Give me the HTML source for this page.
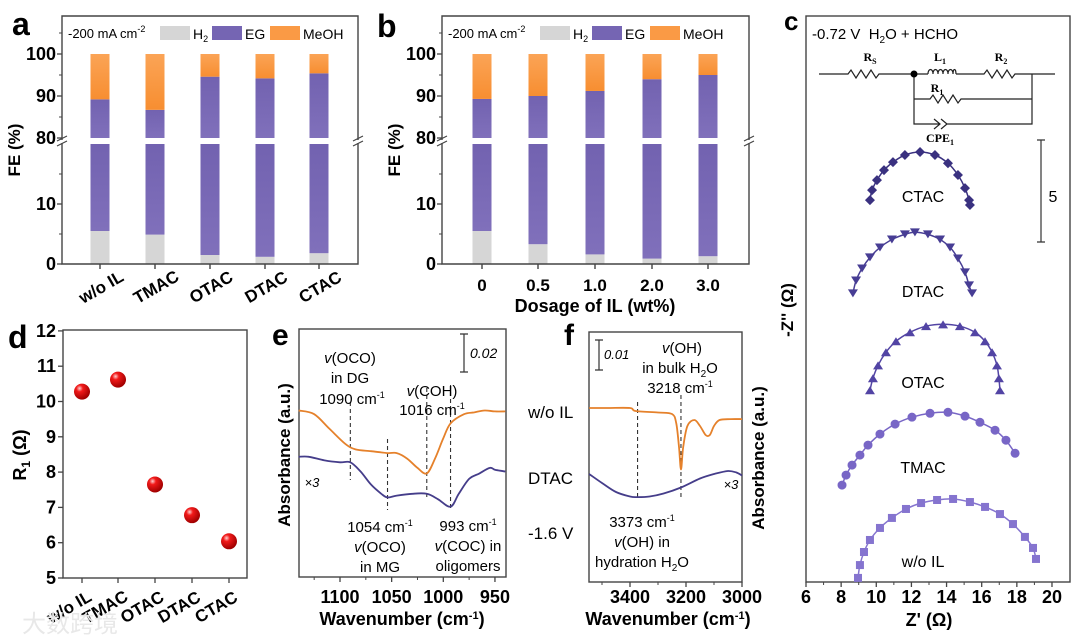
<!DOCTYPE html>
<html><head><meta charset="utf-8"><style>
body{margin:0;background:#fff}
svg{display:block;font-family:"Liberation Sans",Arial,sans-serif}
.b{font-weight:bold}
</style></head><body>
<svg id="fig" width="1080" height="644" viewBox="0 0 1080 644" xmlns="http://www.w3.org/2000/svg">
<g id="static">
<!-- panel letters -->
<text x="12" y="35" font-size="32" class="b">a</text>
<text x="377" y="37" font-size="32" class="b">b</text>
<text x="784" y="30" font-size="26" class="b">c</text>
<text x="8" y="348" font-size="32" class="b">d</text>
<text x="272" y="345" font-size="30" class="b">e</text>
<text x="564" y="345" font-size="30" class="b">f</text>
</g>
<g id="dyn"></g>
</svg>
<script>
// ---------- data ----------
const catsA = ["w/o IL","TMAC","OTAC","DTAC","CTAC"];
const h2A = [5.5,4.9,1.5,1.2,1.8];
const egTopA = [89.2,86.7,94.6,94.2,95.4];
const catsB = ["0","0.5","1.0","2.0","3.0"];
const h2B = [5.5,3.3,1.6,0.9,1.3];
const egTopB = [89.3,90.0,91.2,94.0,95.0];
const feTicks = [0,10,80,90,100];

const catsD = ["w/o IL","TMAC","OTAC","DTAC","CTAC"];
const r1D = [10.28,10.62,7.65,6.78,6.04];
const r1Ticks = [5,6,7,8,9,10,11,12];

const eTicks = [1100,1050,1000,950];
const eOrange = [[1140,90],[1125,88],[1110,80],[1095,72],[1085,69],[1070,68],[1054,67],[1045,67],[1035,64],[1025,59],[1016,56],[1008,64],[1000,75],[993,83],[980,88],[970,89],[960,90],[950,89.5],[940,89.5]];
const eBlue = [[1140,65],[1130,65],[1115,63],[1100,62],[1090,62],[1080,57],[1070,50],[1060,45],[1054,43],[1045,44],[1030,45],[1016,45],[1005,42],[993,38],[985,45],[975,53],[965,56],[955,59],[950,58],[940,57]];
const fTicks = [3400,3200,3000];
const fOrange = [[3546,58],[3480,58],[3400,58],[3380,57],[3300,56.5],[3250,56],[3235,53],[3225,45],[3218,37.5],[3210,45],[3195,52],[3170,54],[3150,52],[3130,49],[3115,49],[3100,52],[3080,54],[3040,54.3],[3000,54.3]];
const fBlue = [[3546,36],[3500,33],[3450,30],[3400,28.5],[3373,28.3],[3330,28.5],[3280,29.5],[3218,31.5],[3150,34.5],[3100,36],[3050,37],[3020,36.5],[3000,35.5]];

const zTicks = [6,8,10,12,14,16,18,20];
const nyqNames = ["CTAC","DTAC","OTAC","TMAC","w/o IL"];
const nyqOffsets = [18.33,14.0,9.3,4.5,0];
const zReCTAC = [9.64,9.76,10.04,10.44,10.95,11.63,12.49,13.34,14.08,14.65,15.05,15.28,15.33];
const zImCTAC = [0.39,0.88,1.37,1.86,2.25,2.6,2.75,2.6,2.2,1.62,0.98,0.39,0.15];
const zReDTAC = [8.67,8.85,9.19,9.64,10.21,10.89,11.63,12.2,12.94,13.63,14.2,14.65,15.05,15.28,15.45];
const zImDTAC = [0.15,0.78,1.37,1.91,2.4,2.79,3.04,3.14,3.04,2.79,2.4,1.86,1.18,0.54,0.15];
const zReOTAC = [9.64,9.81,10.1,10.55,11.12,11.92,12.83,13.8,14.76,15.62,16.19,16.59,16.87,16.98,17.04];
const zImOTAC = [0.1,0.69,1.32,1.96,2.5,2.94,3.24,3.33,3.24,2.94,2.5,1.96,1.32,0.69,0.1];
const zReTMAC = [8.05,8.28,8.62,9.07,9.53,10.21,11.07,12.03,13.06,14.08,15.05,15.9,16.76,17.38,17.9];
const zImTMAC = [0.25,0.74,1.23,1.72,2.21,2.75,3.24,3.58,3.77,3.82,3.63,3.33,2.94,2.45,1.81];
const zReWO = [8.96,9.07,9.3,9.64,10.21,10.89,11.69,12.55,13.46,14.37,15.33,16.19,17.04,17.78,18.46,18.92,19.09];
const zImWO = [0.2,0.83,1.47,2.06,2.65,3.14,3.58,3.87,4.02,4.07,3.92,3.68,3.33,2.84,2.21,1.67,1.13];

// ---------- helpers ----------
const NS="http://www.w3.org/2000/svg";
const root=document.getElementById('dyn');
function mk(tag,attrs,parent){const e=document.createElementNS(NS,tag);for(const k in attrs)e.setAttribute(k,attrs[k]);(parent||root).appendChild(e);return e;}
function txt(x,y,s,size,opts,parent){opts=opts||{};const t=mk('text',{x:x,y:y,'font-size':size,'text-anchor':opts.anchor||'middle'},parent);if(opts.bold)t.setAttribute('font-weight','bold');if(opts.italic)t.setAttribute('font-style','italic');if(opts.fill)t.setAttribute('fill',opts.fill);if(opts.rot)t.setAttribute('transform','rotate('+opts.rot+' '+x+' '+y+')');t.innerHTML=s;return t;}
function smooth(pts){let d='M'+pts[0][0]+','+pts[0][1];for(let i=0;i<pts.length-1;i++){const p0=pts[i-1]||pts[i],p1=pts[i],p2=pts[i+1],p3=pts[i+2]||p2;const c1=[p1[0]+(p2[0]-p0[0])/6,p1[1]+(p2[1]-p0[1])/6],c2=[p2[0]-(p3[0]-p1[0])/6,p2[1]-(p3[1]-p1[1])/6];d+=' C'+c1[0].toFixed(1)+','+c1[1].toFixed(1)+' '+c2[0].toFixed(1)+','+c2[1].toFixed(1)+' '+p2[0].toFixed(1)+','+p2[1].toFixed(1);}return d;}

// ---------- panels a & b ----------
function feY(v){return v<=20?264-v*6:138-(v-80)*4.2;}
function barPanel(x0,x1,cats,h2,egTop,centers,name,rotLabels){
  const g=mk('g',{});
  
  
  const grad=mk('linearGradient',{id:'eg'+name,x1:0,y1:0,x2:0,y2:1},mk('defs',{},g));
  mk('stop',{offset:0,'stop-color':'#7262b0'},grad);mk('stop',{offset:1,'stop-color':'#8070bb'},grad);
  const og=mk('linearGradient',{id:'og'+name,x1:0,y1:0,x2:0,y2:1},g.firstChild);
  mk('stop',{offset:0,'stop-color':'#fba456'},og);mk('stop',{offset:1,'stop-color':'#f78e31'},og);
  const w=19;
  cats.forEach((c,i)=>{
    const cx=centers[i];
    const r1=mk('rect',{x:cx-w/2,y:feY(h2[i]),width:w,height:264-feY(h2[i]),fill:'#d6d6d6'},g);
    
    
    const r2=mk('rect',{x:cx-w/2,y:feY(20),width:w,height:feY(h2[i])-feY(20),fill:'url(#eg'+name+')'},g);
    
    
    const r3=mk('rect',{x:cx-w/2,y:feY(egTop[i]),width:w,height:feY(80)-feY(egTop[i]),fill:'url(#eg'+name+')'},g);
    
    
    const r4=mk('rect',{x:cx-w/2,y:feY(100),width:w,height:feY(egTop[i])-feY(100),fill:'url(#og'+name+')'},g);
    
    
    mk('line',{x1:cx,y1:264,x2:cx,y2:269,stroke:'#333','stroke-width':1.3},g);
    if(rotLabels){txt(cx+4,292,c,17,{bold:true,rot:-30},g);}
    else txt(cx,291,c,17,{bold:true},g);
  });
  // frame with break
  const fr=mk('path',{d:`M${x0},140 V16 H${x1} V140 M${x1},143 V264 H${x0} V143`,fill:'none',stroke:'#444','stroke-width':1.4},g);
  
  
  [x0,x1].forEach(x=>{mk('path',{d:`M${x-5},141 L${x+5},136 M${x-5},146 L${x+5},141`,stroke:'#444','stroke-width':1.2,fill:'none'},g);});
  feTicks.forEach(v=>{const y=feY(v);mk('line',{x1:x0-5,y1:y,x2:x0,y2:y,stroke:'#444','stroke-width':1.3},g);txt(x0-6,y+6,String(v),18,{bold:true,anchor:'end'},g);});
  [5,15,85,95,105].forEach(v=>{const y=feY(v);mk('line',{x1:x0-3,y1:y,x2:x0,y2:y,stroke:'#444','stroke-width':1},g);});
  // legend
  txt(x0+6,38,'-200 mA cm<tspan dy="-6" font-size="9">-2</tspan>',13,{anchor:'start'},g);
  const lx=x0+98;
  mk('rect',{x:lx,y:26,width:30,height:14,fill:'#d6d6d6'},g);txt(lx+33,39,'H<tspan dy="3" font-size="9">2</tspan>',14,{anchor:'start'},g);
  mk('rect',{x:lx+52,y:26,width:30,height:14,fill:'#7565b3'},g);txt(lx+85,39,'EG',14,{anchor:'start'},g);
  mk('rect',{x:lx+110,y:26,width:30,height:14,fill:'#fa9a45'},g);txt(lx+143,39,'MeOH',14,{anchor:'start'},g);
  const yl=txt(x0-42,150,'FE (%)',17,{bold:true,rot:-90},g);
  
  
}
barPanel(62,358,catsA,h2A,egTopA,[100,155,210,265,319],'panel-a',true);
barPanel(442,749,catsB,h2B,egTopB,[482,538,595,652,708],'panel-b',false);
const xb=txt(595,312,'Dosage of IL (wt%)',18,{bold:true});



// ---------- panel d ----------
(function(){
  const g=mk('g',{});
  
  
  const dY=v=>578-(v-5)*35.3;
  const xs=[82,118,155,192,229];
  const rg=mk('radialGradient',{id:'ball',cx:'0.35',cy:'0.3',r:'0.7'},mk('defs',{},g));
  mk('stop',{offset:0,'stop-color':'#ffd0d0'},rg);mk('stop',{offset:0.3,'stop-color':'#f21a1a'},rg);mk('stop',{offset:1,'stop-color':'#a00000'},rg);
  mk('rect',{x:63,y:330,width:184,height:248,fill:'none',stroke:'#444','stroke-width':1.4},g);
  r1Ticks.forEach(v=>{const y=dY(v);mk('line',{x1:58,y1:y,x2:63,y2:y,stroke:'#444','stroke-width':1.3},g);txt(56,y+6,String(v),18,{bold:true,anchor:'end'},g);});
  catsD.forEach((c,i)=>{
    const x=xs[i];
    mk('line',{x1:x,y1:578,x2:x,y2:583,stroke:'#444','stroke-width':1.3},g);
    txt(x-10,612,c,17,{bold:true,rot:-30},g);
    const p=mk('circle',{cx:x,cy:dY(r1D[i]),r:8,fill:'url(#ball)'},g);
    
    
  });
  txt(26,455,'R<tspan dy="4" font-size="12">1</tspan><tspan dy="-4"> (Ω)</tspan>',18,{bold:true,rot:-90},g);
})();

// ---------- panel e ----------
(function(){
  const g=mk('g',{});
  
  
  const ex=w=>340+(1100-w)*1.033;
  const ey=v=>577-v*1.85;
  mk('rect',{x:299,y:329,width:207,height:248,fill:'none',stroke:'#444','stroke-width':1.4},g);
  eTicks.forEach(w=>{const x=ex(w);mk('line',{x1:x,y1:577,x2:x,y2:582,stroke:'#444','stroke-width':1.3},g);txt(x,603,String(w),18,{bold:true},g);});
  [1125,1075,1025,975].forEach(w=>{const x=ex(w);mk('line',{x1:x,y1:577,x2:x,y2:580,stroke:'#444'},g);});
  [[1090,402,480],[1054,439,510],[1016,388,500],[993,385,510]].forEach(d=>{mk('line',{x1:ex(d[0]),y1:d[1],x2:ex(d[0]),y2:d[2],stroke:'#333','stroke-dasharray':'4,3','stroke-width':1.1},g);});
  const o=mk('path',{d:smooth(eOrange.map(p=>[ex(p[0]),ey(p[1])])),fill:'none',stroke:'#e5812b','stroke-width':1.8},g);
  
  
  const b=mk('path',{d:smooth(eBlue.map(p=>[ex(p[0]),ey(p[1])])),fill:'none',stroke:'#453d8a','stroke-width':1.8},g);
  
  
  txt(350,363,'<tspan font-style="italic">v</tspan>(OCO)',15,{},g);
  txt(350,383,'in DG',15,{},g);
  txt(352,404,'1090 cm<tspan dy="-6" font-size="9">-1</tspan>',15,{},g);
  txt(432,396,'<tspan font-style="italic">v</tspan>(COH)',15,{},g);
  txt(432,415,'1016 cm<tspan dy="-6" font-size="9">-1</tspan>',15,{},g);
  mk('path',{d:'M460,334 H468 M464,334 V372 M460,372 H468',stroke:'#333','stroke-width':1.2,fill:'none'},g);
  txt(470,358,'0.02',14,{italic:true,anchor:'start'},g);
  txt(312,487,'×3',13,{italic:true},g);
  txt(380,532,'1054 cm<tspan dy="-6" font-size="9">-1</tspan>',15,{},g);
  txt(380,552,'<tspan font-style="italic">v</tspan>(OCO)',15,{},g);
  txt(380,572,'in MG',15,{},g);
  txt(468,531,'993 cm<tspan dy="-6" font-size="9">-1</tspan>',15,{},g);
  txt(468,551,'<tspan font-style="italic">v</tspan>(COC) in',15,{},g);
  txt(468,571,'oligomers',15,{},g);
  txt(402,625,'Wavenumber (cm<tspan dy="-6" font-size="11">-1</tspan><tspan dy="6">)</tspan>',18,{bold:true},g);
  txt(290,455,'Absorbance (a.u.)',17,{bold:true,rot:-90},g);
  txt(528,418,'w/o IL',17,{anchor:'start'},g);
  txt(528,484,'DTAC',17,{anchor:'start'},g);
  txt(528,539,'-1.6 V',17,{anchor:'start'},g);
})();

// ---------- panel f ----------
(function(){
  const g=mk('g',{});
  
  
  const fx=w=>630+(3400-w)*0.28;
  const fy=v=>582-v*3;
  mk('rect',{x:589,y:332,width:153,height:250,fill:'none',stroke:'#444','stroke-width':1.4},g);
  fTicks.forEach(w=>{const x=fx(w);mk('line',{x1:x,y1:582,x2:x,y2:587,stroke:'#444','stroke-width':1.3},g);txt(x,603,String(w),18,{bold:true},g);});
  [3500,3300,3100].forEach(w=>{const x=fx(w);mk('line',{x1:x,y1:582,x2:x,y2:585,stroke:'#444'},g);});
  [[3373,402,500],[3218,395,500]].forEach(d=>{mk('line',{x1:fx(d[0]),y1:d[1],x2:fx(d[0]),y2:d[2],stroke:'#333','stroke-dasharray':'4,3','stroke-width':1.1},g);});
  const o=mk('path',{d:smooth(fOrange.map(p=>[fx(p[0]),fy(p[1])])),fill:'none',stroke:'#e5812b','stroke-width':1.8},g);
  
  
  const b=mk('path',{d:smooth(fBlue.map(p=>[fx(p[0]),fy(p[1])])),fill:'none',stroke:'#453d8a','stroke-width':1.8},g);
  
  
  mk('path',{d:'M595,340 H603 M599,340 V370 M595,370 H603',stroke:'#333','stroke-width':1.2,fill:'none'},g);
  txt(604,359,'0.01',13,{italic:true,anchor:'start'},g);
  txt(682,353,'<tspan font-style="italic">v</tspan>(OH)',15,{},g);
  txt(680,373,'in bulk H<tspan dy="4" font-size="10">2</tspan><tspan dy="-4">O</tspan>',15,{},g);
  txt(680,393,'3218 cm<tspan dy="-6" font-size="9">-1</tspan>',15,{},g);
  txt(642,527,'3373 cm<tspan dy="-6" font-size="9">-1</tspan>',15,{},g);
  txt(642,547,'<tspan font-style="italic">v</tspan>(OH) in',15,{},g);
  txt(642,567,'hydration H<tspan dy="4" font-size="10">2</tspan><tspan dy="-4">O</tspan>',15,{},g);
  txt(731,489,'×3',13,{italic:true},g);
  txt(668,625,'Wavenumber (cm<tspan dy="-6" font-size="11">-1</tspan><tspan dy="6">)</tspan>',18,{bold:true},g);
  txt(764,458,'Absorbance (a.u.)',17,{bold:true,rot:-90},g);
})();

// ---------- panel c ----------
(function(){
  const g=mk('g',{});
  
  
  const zx=v=>806+(v-6)*17.57;
  const zy=v=>582-v*20.4;
  mk('rect',{x:806,y:16,width:264,height:566,fill:'none',stroke:'#444','stroke-width':1.4},g);
  zTicks.forEach(v=>{const x=zx(v);mk('line',{x1:x,y1:582,x2:x,y2:587,stroke:'#444','stroke-width':1.3},g);txt(x,603,String(v),18,{bold:true},g);});
  [7,9,11,13,15,17,19].forEach(v=>{const x=zx(v);mk('line',{x1:x,y1:582,x2:x,y2:585,stroke:'#444'},g);});
  txt(929,626,"Z' (Ω)",18,{bold:true},g);
  txt(793,310,"-Z'' (Ω)",17,{bold:true,rot:-90},g);
  txt(812,39,'-0.72 V&#160;&#160;H<tspan dy="4" font-size="10">2</tspan><tspan dy="-4">O + HCHO</tspan>',15,{anchor:'start'},g);
  // circuit
  const c=mk('g',{fill:'none',stroke:'#222','stroke-width':1.2},g);
  
  
  mk('path',{d:'M819,74 H848 l3,-4 l5,8 l5,-8 l5,8 l5,-8 l5,8 l3,-4 H928 M956,74 H984 l3,-4 l5,8 l5,-8 l5,8 l5,-8 l5,8 l3,-4 H1055 M914,74 V124 H940 M947,124 H1032 V74 M914,99 H930 l3,-4 l5,8 l5,-8 l5,8 l5,-8 l5,8 l3,-4 H1032 M934,119 l6,5 l-6,5 M941,119 l6,5 l-6,5'},c);
  mk('path',{d:'M928,74 c0,-6 5,-6 5,0 c0,-6 5,-6 5,0 c0,-6 5,-6 5,0 c0,-6 5,-6 5,0 c0,-6 5,-6 5,0 c0,-6 3,-6 3,0'},c);
  mk('circle',{cx:914,cy:74,r:3.5,fill:'#000'},g);
  const sf='font-family:"Liberation Serif",serif;font-weight:bold';
  [[870,61,'R<tspan dy="3" font-size="8">S</tspan>'],[940,61,'L<tspan dy="3" font-size="8">1</tspan>'],[1001,61,'R<tspan dy="3" font-size="8">2</tspan>'],[937,92,'R<tspan dy="3" font-size="8">1</tspan>'],[940,142,'CPE<tspan dy="3" font-size="8">1</tspan>']].forEach(t=>{const e=txt(t[0],t[1],t[2],12,{},g);e.setAttribute('style',sf);});
  mk('path',{d:'M1037,140 H1045 M1041,140 V242 M1037,242 H1045',stroke:'#333','stroke-width':1.2,fill:'none'},g);
  txt(1053,202,'5',16,{},g);
  const sets=[[zReCTAC,zImCTAC,'#3a3180','diamond'],[zReDTAC,zImDTAC,'#473d94','tridown'],[zReOTAC,zImOTAC,'#5244a4','triup'],[zReTMAC,zImTMAC,'#7866c6','circle'],[zReWO,zImWO,'#8574cf','square']];
  const labY=[202,297,388,473,567];
  sets.forEach((s,k)=>{
    const pts=s[0].map((v,i)=>[zx(v),zy(s[1][i]+nyqOffsets[k])]);
    const ln=mk('path',{d:smooth(pts),fill:'none',stroke:s[2],'stroke-width':1.5},g);
    
    
    pts.forEach(p=>{
      let m;
      if(s[3]=='diamond')m=mk('path',{d:`M${p[0]},${p[1]-5} l5,5 l-5,5 l-5,-5z`,fill:s[2]},g);
      else if(s[3]=='tridown')m=mk('path',{d:`M${p[0]-5},${p[1]-4} h10 l-5,8z`,fill:s[2]},g);
      else if(s[3]=='triup')m=mk('path',{d:`M${p[0]-5},${p[1]+4} h10 l-5,-8z`,fill:s[2]},g);
      else if(s[3]=='circle')m=mk('circle',{cx:p[0],cy:p[1],r:4.5,fill:s[2]},g);
      else m=mk('rect',{x:p[0]-4,y:p[1]-4,width:8,height:8,fill:s[2]},g);
      
      
    });
    txt(923,labY[k],nyqNames[k],16,{},g);
  });
})();
// watermark
const wm=txt(70,632,'大数跨境',24,{fill:'#e8e8e8'});
wm.setAttribute('style','font-family:"Liberation Sans","Noto Sans CJK SC",sans-serif');


</script>
</body></html>
